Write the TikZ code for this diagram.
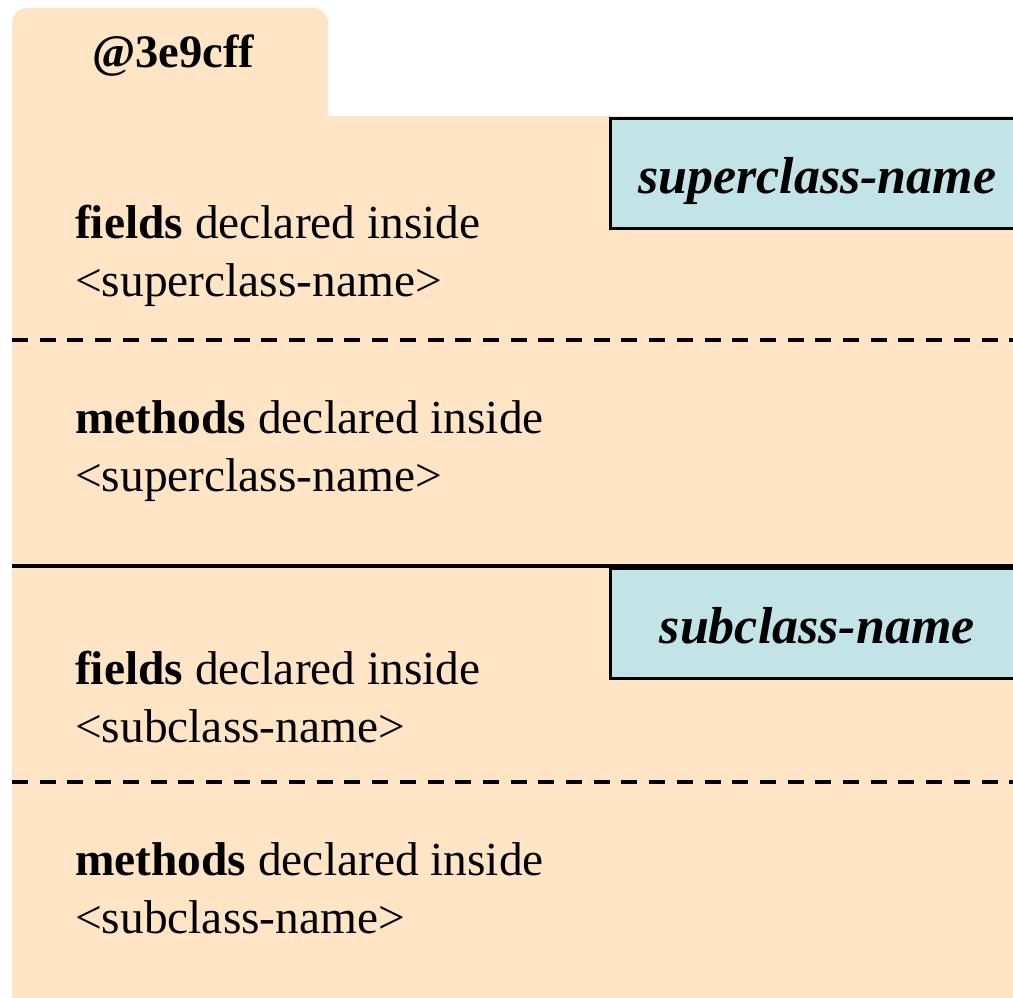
\documentclass[tikz,border=0pt]{standalone}
\usepackage{fontspec}
\setmainfont{Liberation Serif}
\definecolor{objfill}{HTML}{FFE5C5}
\definecolor{namefill}{HTML}{C2E4E7}
\begin{document}
\begin{tikzpicture}[x=1bp,y=-1bp,
  bodytext/.style={font=\fontsize{47.4bp}{58bp}\selectfont, anchor=base west,
    inner sep=0pt, align=left},
  namebox/.style={draw=black, line width=2.5bp, fill=namefill, anchor=north west,
    minimum width=414bp, minimum height=110bp, inner sep=0pt,
    font=\fontsize{52bp}{60bp}\selectfont\bfseries\itshape,
    text height=45bp, text depth=5bp},
  divider/.style={line width=3.2bp, line cap=butt},
  dashdivider/.style={divider, dash pattern=on 16bp off 11.7bp}]
\useasboundingbox (0,0) rectangle (1013,998);
\clip (0,0) rectangle (1013,998);

% object tab and body
\fill[objfill, rounded corners=15bp] (12,8) rectangle (328,150);
\fill[objfill] (12,116) rectangle (1013,998);
\node[bodytext, font=\fontsize{46.5bp}{53bp}\selectfont\bfseries] (objid) at (92,67) {@3e9cff};

% separators
\coordinate (d1l) at (12,340);  \coordinate (d1r) at (1013,340);
\coordinate (s1l) at (12,566);  \coordinate (s1r) at (1013,566);
\coordinate (d2l) at (12,782);  \coordinate (d2r) at (1013,782);
\draw[dashdivider] (d1l) -- (d1r);
\draw[divider] (s1l) -- (s1r);
\draw[dashdivider] (d2l) -- (d2r);

% class name boxes
\node[namebox] (super) at (609,117) {superclass-name};
\node[namebox] (sub) at (609,567) {subclass-name};

% compartment contents (base anchor sits on the last line)
\node[bodytext] (f1) at (75,296) {\textbf{fields} declared inside\\<superclass-name>};
\node[bodytext] (m1) at (75,491) {\textbf{methods} declared inside\\<superclass-name>};
\node[bodytext] (f2) at (75,742) {\textbf{fields} declared inside\\<subclass-name>};
\node[bodytext] (m2) at (75,933) {\textbf{methods} declared inside\\<subclass-name>};
\end{tikzpicture}
\end{document}
